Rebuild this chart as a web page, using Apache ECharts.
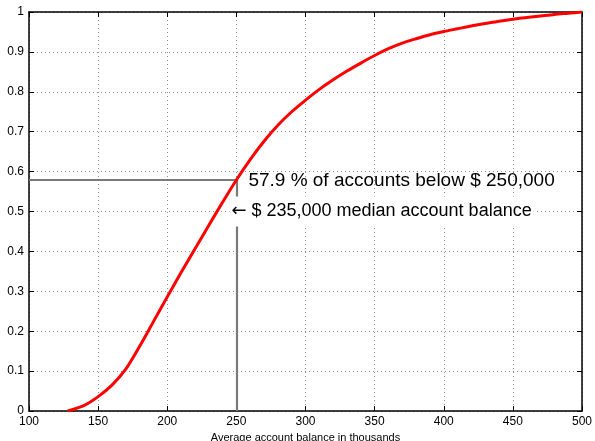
<!DOCTYPE html>
<html>
<head>
<meta charset="utf-8">
<script src="https://cdn.jsdelivr.net/npm/echarts@6/dist/echarts.min.js"></script>
<style>
html, body { margin: 0; padding: 0; background: #fff; }
#main { width: 595px; height: 441px; }
</style>
</head>
<body>
<div id="main"></div>
<script>
// account balance (thousands) vs cumulative fraction of accounts
var balance = [128, 130, 140, 150, 160, 170, 180, 190, 200, 210, 220, 230, 240, 250, 260, 270, 280, 290, 300, 310, 320, 330, 340, 350, 360, 370, 380, 390, 400, 410, 420, 430, 440, 450, 460, 470, 480, 490, 500];
var fraction = [0, 0.002, 0.014, 0.036, 0.065, 0.105, 0.162, 0.224, 0.286, 0.347, 0.406, 0.465, 0.523, 0.579, 0.630, 0.676, 0.716, 0.750, 0.779, 0.806, 0.830, 0.852, 0.872, 0.891, 0.908, 0.922, 0.933, 0.943, 0.951, 0.958, 0.965, 0.971, 0.977, 0.982, 0.986, 0.990, 0.994, 0.997, 1.0];

var xTicks = [100, 150, 200, 250, 300, 350, 400, 450, 500];
var yTicks = [0, 0.1, 0.2, 0.3, 0.4, 0.5, 0.6, 0.7, 0.8, 0.9, 1];

var cutoff = 250;       // $ 250,000
var cutoffFrac = 0.579; // 57.9 %
var median = 0.5;

var labelFont = 'Liberation Sans, Arial, Helvetica, sans-serif';

var curve = [];
for (var i = 0; i < balance.length; i++) {
    curve.push([balance[i], fraction[i]]);
}

var chart = echarts.init(document.getElementById('main'));

var option = {
    animation: false,
    backgroundColor: '#fff',
    grid: {
        left: 29, right: 13, top: 12, bottom: 30,
        containLabel: false,
        outerBoundsMode: 'none'
    },
    xAxis: [{
        type: 'value',
        min: xTicks[0], max: xTicks[xTicks.length - 1], interval: 50,
        name: 'Average account balance in thousands',
        nameLocation: 'middle',
        nameGap: 19,
        nameTextStyle: { color: '#000', fontSize: 11, fontFamily: labelFont },
        axisLine: { show: true, onZero: false, lineStyle: { color: '#000', width: 1.5 } },
        axisTick: { show: true, inside: true, length: 5, lineStyle: { color: '#000', width: 1 } },
        axisLabel: { color: '#000', fontSize: 12, fontFamily: labelFont, margin: 5 },
        splitLine: { show: true, lineStyle: { color: '#8c8c8c', width: 1, type: [1, 3] } }
    }, {
        type: 'value', position: 'top',
        min: xTicks[0], max: xTicks[xTicks.length - 1], interval: 50,
        axisLine: { show: true, onZero: false, lineStyle: { color: '#000', width: 1.5 } },
        axisTick: { show: true, inside: true, length: 5, lineStyle: { color: '#000', width: 1 } },
        axisLabel: { show: false },
        splitLine: { show: false }
    }],
    yAxis: [{
        type: 'value',
        min: yTicks[0], max: yTicks[yTicks.length - 1], interval: 0.1,
        axisLine: { show: true, onZero: false, lineStyle: { color: '#000', width: 1.5 } },
        axisTick: { show: true, inside: true, length: 5, lineStyle: { color: '#000', width: 1 } },
        axisLabel: {
            color: '#000', fontSize: 12, fontFamily: labelFont, margin: 5,
            formatter: function (v) { return String(Math.round(v * 10) / 10); }
        },
        splitLine: { show: true, lineStyle: { color: '#8c8c8c', width: 1, type: [1, 3] } }
    }, {
        type: 'value', position: 'right',
        min: yTicks[0], max: yTicks[yTicks.length - 1], interval: 0.1,
        axisLine: { show: true, onZero: false, lineStyle: { color: '#000', width: 1.5 } },
        axisTick: { show: true, inside: true, length: 5, lineStyle: { color: '#000', width: 1 } },
        axisLabel: { show: false },
        splitLine: { show: false }
    }],
    series: [{
        name: 'guides',
        type: 'line',
        data: [],
        markLine: {
            silent: true,
            symbol: 'none',
            label: { show: false },
            lineStyle: { color: '#7a7a7a', width: 2.2, type: 'solid' },
            data: [
                [{ coord: [xTicks[0], cutoffFrac] }, { coord: [cutoff, cutoffFrac] }],
                [{ coord: [cutoff, 0] }, { coord: [cutoff, cutoffFrac] }]
            ]
        }
    }, {
        name: 'cdf',
        type: 'line',
        data: curve,
        smooth: 0.3,
        showSymbol: false,
        z: 5,
        lineStyle: { color: '#ff0000', width: 3 }
    }, {
        name: 'notes',
        type: 'line',
        data: [],
        z: 6,
        markPoint: {
            silent: true,
            symbol: 'rect',
            symbolSize: 0,
            data: [{
                coord: [cutoff, cutoffFrac],
                label: {
                    show: true, position: 'right', distance: 0, offset: [12, 1],
                    formatter: '57.9 % of accounts below $ 250,000',
                    color: '#000', fontSize: 19, fontFamily: labelFont
                }
            }, {
                coord: [cutoff, median],
                label: {
                    show: true, position: 'right', distance: 0, offset: [-7, 0],
                    formatter: '{arr|\u2190} $ 235,000 median account balance',
                    color: '#000', fontSize: 18, fontFamily: labelFont,
                    backgroundColor: '#fff', padding: [6, 2, 6, 2],
                    rich: {
                        arr: { fontSize: 18, fontFamily: 'DejaVu Sans', color: '#000' }
                    }
                }
            }]
        }
    }]
};

chart.setOption(option);
</script>
</body>
</html>
